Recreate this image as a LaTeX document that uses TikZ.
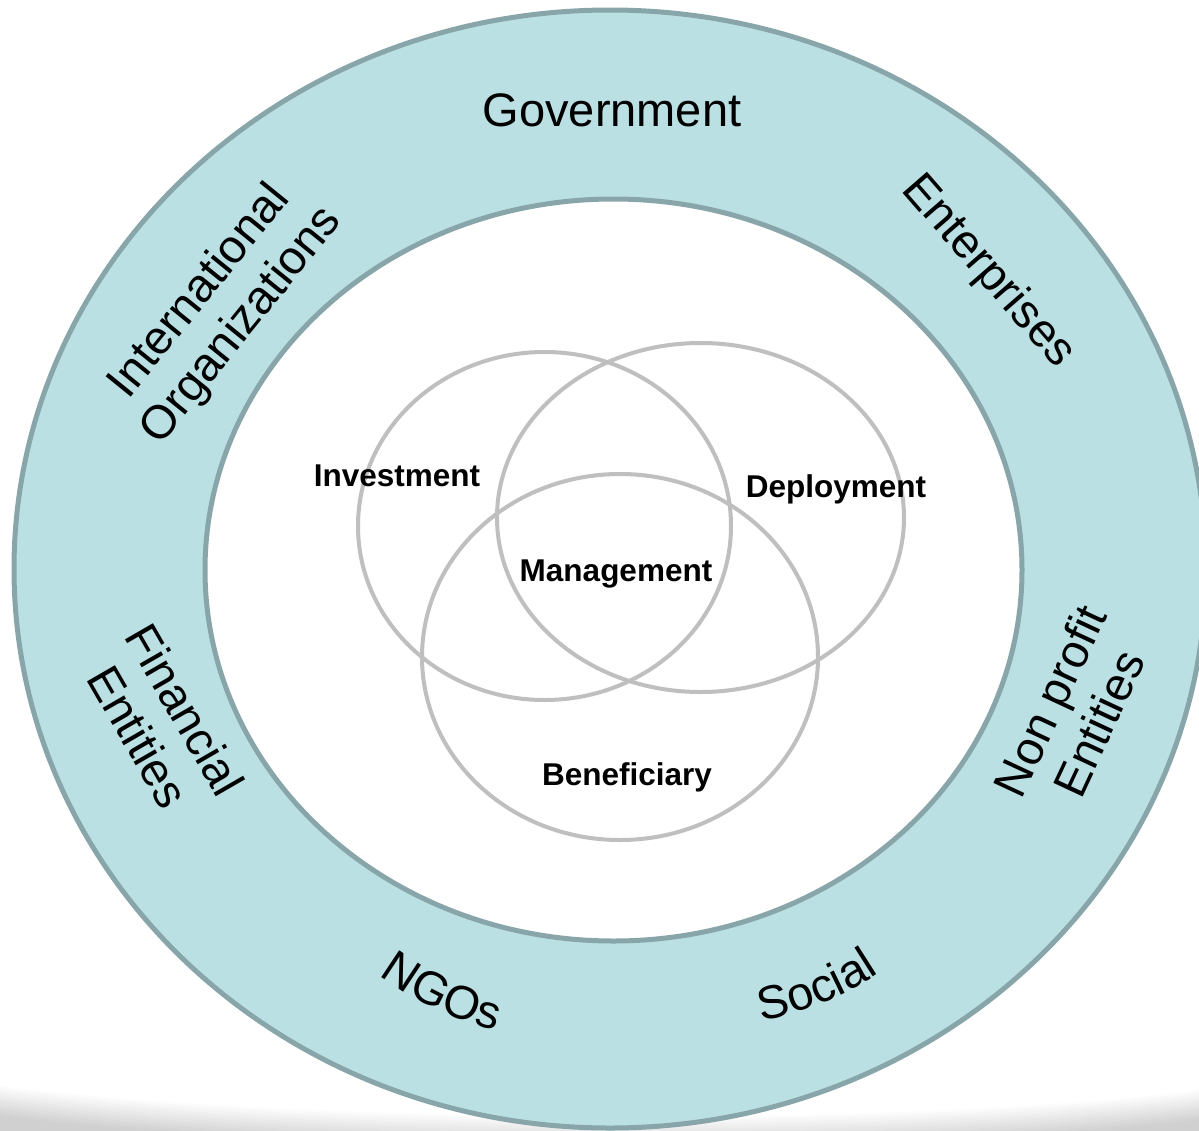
\documentclass[tikz,border=0pt]{standalone}
\usepackage{fontspec}
\setmainfont{Liberation Sans}
\usetikzlibrary{decorations.text}
\definecolor{ringfill}{HTML}{BAE0E3}
\definecolor{ringline}{HTML}{88A6A9}
\definecolor{venn}{HTML}{BFBFBF}
\tikzset{
  ring/.style={draw=ringline, line width=5pt},
  vennc/.style={draw=venn, line width=4pt},
  outerlbl/.style={font=\fontsize{47}{54}\selectfont, align=center, inner sep=0pt},
  innerlbl/.style={font=\fontsize{31.5}{36}\selectfont\bfseries, inner sep=0pt},
}
\begin{document}
\begin{tikzpicture}[x=1pt,y=-1pt]
\useasboundingbox (0,0) rectangle (1199,1130);
\clip (0,0) rectangle (1199,1130);
% bottom shadow
\foreach \i in {0,2,...,30}{
  \fill[black, opacity=0.013] (0,1086+\i) .. controls (300,1124+\i) and (900,1128+\i) .. (1199,1090+\i) -- (1199,1140) -- (0,1140) -- cycle;
}
% ring
\fill[ringfill] (610,569) ellipse [x radius=596pt, y radius=559pt];
\draw[ring] (610,569) ellipse [x radius=596pt, y radius=559pt];
\fill[white] (613.5,570) ellipse [x radius=408.5pt, y radius=371pt];
\draw[ring] (613.5,570) ellipse [x radius=408.5pt, y radius=371pt];
% venn
\draw[vennc] (544.5,526) ellipse [x radius=186.5pt, y radius=174pt];
\draw[vennc] (700.5,517.5) ellipse [x radius=203.5pt, y radius=174.5pt];
\draw[vennc] (620,657) ellipse [x radius=198pt, y radius=183pt];
% inner labels
\node[innerlbl] (inv) at (397,476) {Investment};
\node[innerlbl] (dep) at (836,489) {Deployment};
\node[innerlbl] (man) at (616,574) {Management};
\node[innerlbl] (ben) at (627,777) {Beneficiary};
% outer labels
\node[outerlbl] (gov) at (612,110) {Government};
\node[outerlbl, rotate=51] (intl) at (221,309) {International\\Organizations};
\node[outerlbl, rotate=-49] (ent) at (988,272) {Enterprises};
\node[outerlbl, rotate=65] (npe) at (1074,712) {Non profit\\Entities};
\node[outerlbl, rotate=-60] (fin) at (162,723) {Financial\\Entities};
% curved labels
\path[decorate, decoration={text along path, text align=center,
  text={|\fontsize{47}{54}\selectfont|NGOs}}]
  plot[domain=140:90, samples=30, smooth] ({435+320*(cos(\x)-cos(115))}, {1009+320*(sin(\x)-sin(115))});
\path[decorate, decoration={text along path, text align=center,
  text={|\fontsize{47}{54}\selectfont|Social}}]
  plot[domain=93:43, samples=30, smooth] ({823+320*(cos(\x)-cos(68))}, {1003+320*(sin(\x)-sin(68))});
\end{tikzpicture}
\end{document}
